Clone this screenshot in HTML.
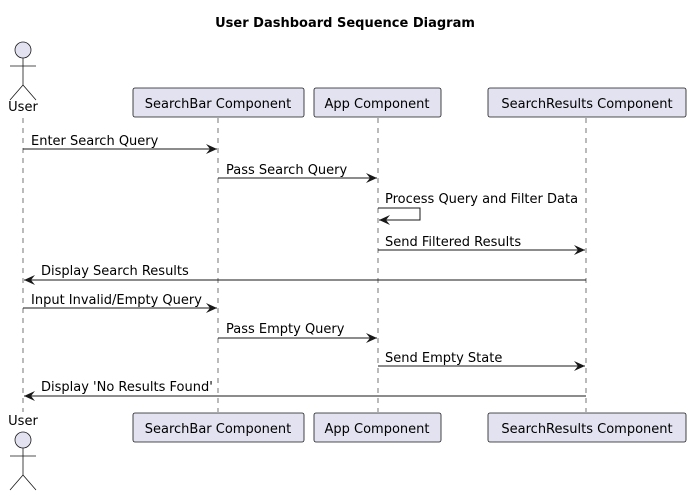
<!DOCTYPE html>
<html><head><style>body{margin:0;background:#fff}svg{display:block}text{font-family:"DejaVu Sans","Liberation Sans",sans-serif;font-size:13px;fill:#000}</style></head>
<body>
<svg width="691" height="493" viewBox="0 0 691 493" xmlns="http://www.w3.org/2000/svg">
<defs><marker id="a" markerWidth="12" markerHeight="10" refX="11" refY="5" orient="auto" markerUnits="userSpaceOnUse"><path d="M0,0 L11,5 L0,10 L4,5 Z" fill="#181818"/></marker></defs>
<text x="345" y="27" text-anchor="middle" style="font-weight:bold;font-size:13px">User Dashboard Sequence Diagram</text>
<g stroke="#555" stroke-dasharray="5,5" stroke-width="0.8">
<line x1="23" y1="118" x2="23" y2="412"/><line x1="218" y1="118" x2="218" y2="412"/><line x1="378" y1="118" x2="378" y2="412"/><line x1="586" y1="118" x2="586" y2="412"/>
</g>
<g fill="#E2E2F0" stroke="#181818" stroke-width="0.8">
<circle cx="23" cy="50" r="8"/><circle cx="23" cy="440" r="8"/>
<rect x="133" y="88" width="171" height="29" rx="2"/><rect x="314" y="88" width="127" height="29" rx="2"/><rect x="488" y="88" width="198" height="29" rx="2"/>
<rect x="133" y="413" width="171" height="29" rx="2"/><rect x="314" y="413" width="127" height="29" rx="2"/><rect x="488" y="413" width="198" height="29" rx="2"/>
</g>
<g stroke="#181818" fill="none" stroke-width="0.8">
<path d="M23,58 V85 M10,66 H36 M10,100 L23,85 L36,100"/>
<path d="M23,448 V475 M10,456 H36 M10,490 L23,475 L36,490"/>
</g>
<text x="23" y="111" text-anchor="middle">User</text><text x="23" y="425" text-anchor="middle">User</text>
<text x="218" y="108" text-anchor="middle">SearchBar Component</text><text x="377" y="108" text-anchor="middle">App Component</text><text x="587" y="108" text-anchor="middle">SearchResults Component</text>
<text x="218" y="433" text-anchor="middle">SearchBar Component</text><text x="377" y="433" text-anchor="middle">App Component</text><text x="587" y="433" text-anchor="middle">SearchResults Component</text>
<g stroke="#181818" stroke-width="1" fill="none" marker-end="url(#a)">
<line x1="23" y1="149" x2="217" y2="149"/>
<line x1="218" y1="178" x2="377" y2="178"/>
<path d="M378,208 H420 V220 H379"/>
<line x1="378" y1="250" x2="585" y2="250"/>
<line x1="586" y1="280" x2="24" y2="280"/>
<line x1="23" y1="308" x2="217" y2="308"/>
<line x1="218" y1="338" x2="377" y2="338"/>
<line x1="378" y1="366" x2="585" y2="366"/>
<line x1="586" y1="396" x2="24" y2="396"/>
</g>
<text x="31" y="145">Enter Search Query</text>
<text x="226" y="174">Pass Search Query</text>
<text x="385" y="203">Process Query and Filter Data</text>
<text x="385" y="246">Send Filtered Results</text>
<text x="41" y="275">Display Search Results</text>
<text x="31" y="304">Input Invalid/Empty Query</text>
<text x="226" y="333">Pass Empty Query</text>
<text x="385" y="362">Send Empty State</text>
<text x="41" y="391">Display 'No Results Found'</text>
</svg>
</body></html>
